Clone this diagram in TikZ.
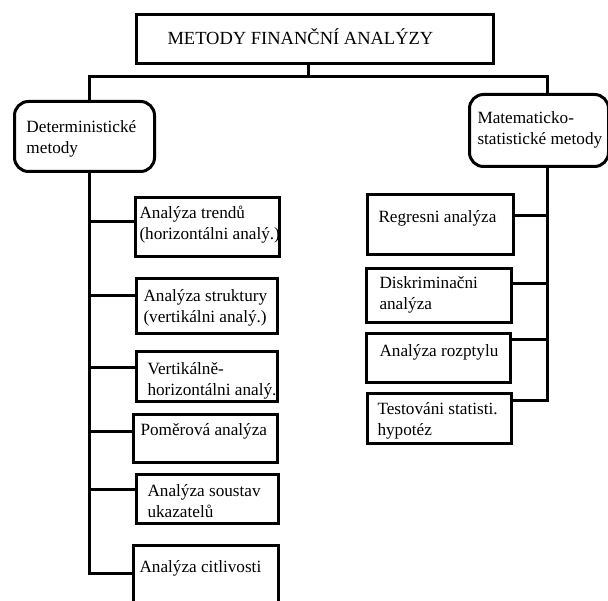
\documentclass[tikz,border=0pt]{standalone}
\usepackage{fontspec}
\setmainfont{Liberation Serif}
\newcommand{\Ln}[1]{\makebox[0pt][l]{\rule[-5pt]{0pt}{21pt}#1}}
\newcommand{\bx}[5]{\parbox[c][#2pt][t]{#1pt}{\setlength{\leftskip}{#3pt}\vspace*{#4pt}#5}}
\tikzset{
  box/.style={draw, line width=3pt, inner sep=0pt, anchor=north west, font=\fontsize{17.2}{21.5}\selectfont},
  rbox/.style={box, rounded corners=14pt},
  conn/.style={line width=3pt},
}
\begin{document}
\begin{tikzpicture}[x=1pt,y=-1pt]
\useasboundingbox (0,0) rectangle (608,601);
\clip (0,0) rectangle (608,601);
% title
\node[box, font=\fontsize{18.5}{22}\selectfont] (t) at (135,13) {\bx{357}{49}{31}{14}{\Ln{METODY FINANČNÍ ANALÝZY}}};
% main groups
\node[rbox] (det) at (13,100) {\bx{140}{70}{12}{15}{\Ln{Deterministické}\\\Ln{metody}}};
\node[rbox] (mat) at (468,93) {\bx{139}{72}{8}{13}{\Ln{Matematicko-}\\\Ln{statistické metody}}};
% left column
\node[box] (L1) at (134,196) {\bx{144}{59}{4}{5}{\Ln{Analýza trendů}\\\Ln{(horizontálni analý.)}}};
\node[box] (L2) at (135,277) {\bx{141}{55}{7}{7}{\Ln{Analýza struktury}\\\Ln{(vertikálni analý.)}}};
\node[box] (L3) at (135,350) {\bx{141}{50}{11}{7}{\Ln{Vertikálně-}\\\Ln{horizontálni analý.}}};
\node[box] (L4) at (132,413) {\bx{144}{48}{7}{5}{\Ln{Poměrová analýza}}};
\node[box] (L5) at (135,473) {\bx{142}{49}{11}{6}{\Ln{Analýza soustav}\\\Ln{ukazatelů}}};
\node[box] (L6) at (132,544) {\bx{145}{70}{6}{11}{\Ln{Analýza citlivosti}}};
% right column
\node[box] (R1) at (366,193) {\bx{146}{60}{11}{12}{\Ln{Regresni analýza}}};
\node[box] (R2) at (365,267) {\bx{145}{54}{13}{4}{\Ln{Diskriminačni}\\\Ln{analýza}}};
\node[box] (R3) at (365,332) {\bx{144}{49}{13}{7}{\Ln{Analýza rozptylu}}};
\node[box] (R4) at (366,392) {\bx{144}{50}{10}{5}{\Ln{Testováni statisti.}\\\Ln{hypotéz}}};
% connectors
\coordinate (jL) at (89,77);
\coordinate (jR) at (547,77);
\coordinate (tj) at (308,77);
\draw[conn] (t.south -| tj) -- (tj);
\draw[conn] (jL |- det.north) -- (jL) -- (jR) -- (jR |- mat.north);
\coordinate (sL) at (89,573);
\draw[conn] (det.south -| sL) -- (sL) -- (sL -| L6.west);
\coordinate (a1) at (89,222);
\coordinate (a2) at (89,296);
\coordinate (a3) at (89,368);
\coordinate (a4) at (89,432);
\coordinate (a5) at (89,489);
\draw[conn] (a1) -- (a1 -| L1.west);
\draw[conn] (a2) -- (a2 -| L2.west);
\draw[conn] (a3) -- (a3 -| L3.west);
\draw[conn] (a4) -- (a4 -| L4.west);
\draw[conn] (a5) -- (a5 -| L5.west);
\coordinate (sR) at (547,401);
\draw[conn] (mat.south -| sR) -- (sR) -- (sR -| R4.east);
\coordinate (c1) at (547,216);
\coordinate (c2) at (547,284);
\coordinate (c3) at (547,340);
\draw[conn] (c1) -- (c1 -| R1.east);
\draw[conn] (c2) -- (c2 -| R2.east);
\draw[conn] (c3) -- (c3 -| R3.east);
\end{tikzpicture}
\end{document}
